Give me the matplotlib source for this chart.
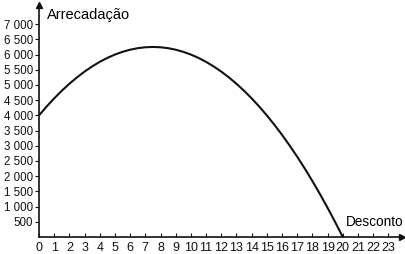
import matplotlib
matplotlib.use('Agg')
from matplotlib import pyplot as plt
from matplotlib.ticker import FuncFormatter

plt.rcParams['font.family'] = ['Liberation Sans', 'DejaVu Sans']

# values
desconto = [0, 0.5, 1, 1.5, 2, 2.5, 3, 3.5, 4, 4.5, 5, 5.5, 6, 6.5, 7, 7.5, 8, 8.5, 9, 9.5,
            10, 10.5, 11, 11.5, 12, 12.5, 13, 13.5, 14, 14.5, 15, 15.5, 16, 16.5, 17, 17.5,
            18, 18.5, 19, 19.5, 20]
arrecadacao = [4000, 4290, 4560, 4810, 5040, 5250, 5440, 5610, 5760, 5890, 6000, 6090,
               6160, 6210, 6240, 6250, 6240, 6210, 6160, 6090, 6000, 5890, 5760, 5610,
               5440, 5250, 5040, 4810, 4560, 4290, 4000, 3690, 3360, 3010, 2640, 2250,
               1840, 1410, 960, 490, 0]
x_ticks = list(range(0, 24))
y_ticks = list(range(500, 7001, 500))

fig = plt.figure(figsize=(4.06, 2.54), dpi=100)
ax = fig.add_axes([39 / 406, 17 / 254, 363 / 406, 232 / 254])

ax.plot(desconto, arrecadacao, color='#111111', lw=1.5, clip_on=False, zorder=3,
        solid_capstyle='butt')

ax.set_xlim(0, 23.9)
ax.set_ylim(0, 7630)
ax.set_xticks(x_ticks)
ax.set_yticks(y_ticks)
ax.yaxis.set_major_formatter(FuncFormatter(lambda v, p: f'{int(v):,}'.replace(',', ' ')))

for s in ['top', 'right']:
    ax.spines[s].set_visible(False)
for s in ['left', 'bottom']:
    ax.spines[s].set_linewidth(1.2)
    ax.spines[s].set_color('#111111')

ax.tick_params(axis='y', direction='out', length=3, width=0.8, labelsize=8.3, pad=1, colors='#111111')
ax.tick_params(axis='x', direction='in', length=3, width=0.8, labelsize=9, pad=3.5, colors='#111111')

# arrow heads at the axis ends
ax.plot(1, 0, '>', color='#111111', ms=5, transform=ax.transAxes, clip_on=False)
ax.plot(0, 1, '^', color='#111111', ms=5, transform=ax.transAxes, clip_on=False)

ax.text(0.022, 0.955, 'Arrecadação', transform=ax.transAxes, fontsize=10.5, va='center', ha='left')
ax.text(1.003, 0.065, 'Desconto', transform=ax.transAxes, fontsize=9.8, va='center', ha='right')

fig.savefig('out.png', dpi=100)
